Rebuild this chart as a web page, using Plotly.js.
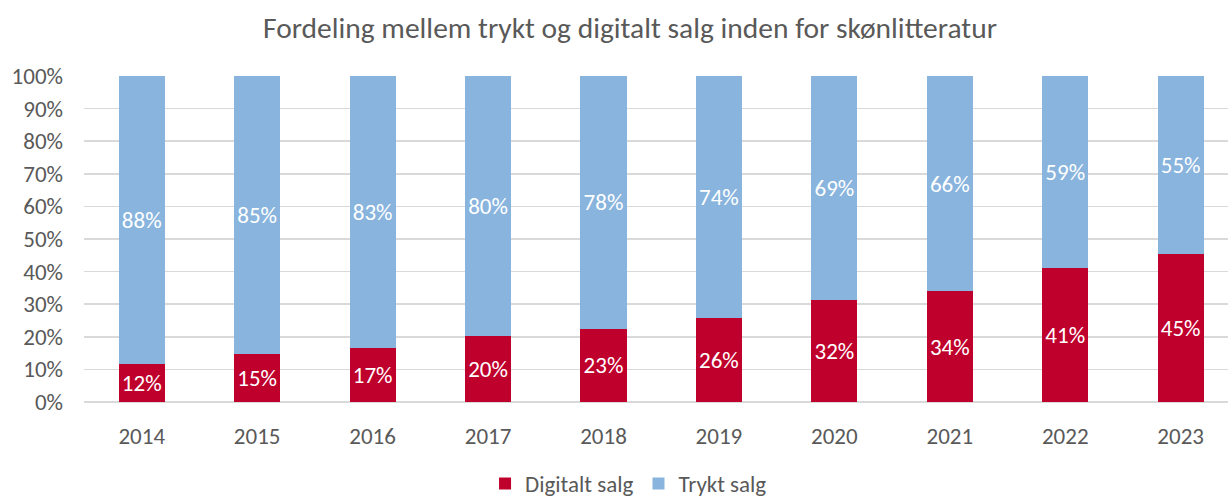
<!DOCTYPE html>
<html>
<head>
<meta charset="utf-8">
<script src="https://cdn.plot.ly/plotly-3.0.1.min.js"></script>
<style>html,body{margin:0;padding:0;background:#fff;}#chart{width:1228px;height:498px;}</style>
</head>
<body>
<div id="chart"></div>
<script>
const years = ['2014','2015','2016','2017','2018','2019','2020','2021','2022','2023'];
const digital = [11.8, 14.8, 16.5, 20.2, 22.4, 25.9, 31.4, 33.9, 41.1, 45.3];
const printed = [88.2, 85.2, 83.5, 79.8, 77.6, 74.1, 68.6, 66.1, 58.9, 54.7];
const digitalLabels = ['12%','15%','17%','20%','23%','26%','32%','34%','41%','45%'];
const printedLabels = ['88%','85%','83%','80%','78%','74%','69%','66%','59%','55%'];
const yTicks = [0,10,20,30,40,50,60,70,80,90,100];
const yTickLabels = ['0%','10%','20%','30%','40%','50%','60%','70%','80%','90%','100%'];

const FONT = 'Carlito, Calibri, Lato, "Open Sans", sans-serif';
const GREY = '#595959';

const traces = [
  {type:'bar', name:'Digitalt salg', x:years, y:digital, text:digitalLabels,
   textposition:'inside', insidetextanchor:'middle', constraintext:'none',
   textfont:{color:'#ffffff', size:23, family:FONT},
   marker:{color:'#C0002C'}, hoverinfo:'skip'},
  {type:'bar', name:'Trykt salg', x:years, y:printed, text:printedLabels,
   textposition:'inside', insidetextanchor:'middle', constraintext:'none',
   textfont:{color:'#ffffff', size:23, family:FONT},
   marker:{color:'#88B4DD'}, hoverinfo:'skip'}
];

const layout = {
  width:1228, height:498,
  margin:{l:84, r:0, t:76, b:96, autoexpand:false},
  paper_bgcolor:'#ffffff', plot_bgcolor:'#ffffff',
  barmode:'stack', bargap:0.6,
  font:{family:FONT, color:GREY, size:23},
  title:{text:'Fordeling mellem trykt og digitalt salg inden for skønlitteratur',
         x:0.513, xanchor:'center', y:0.945, yanchor:'middle',
         font:{size:29.5, color:GREY, family:FONT}},
  xaxis:{type:'category', range:[-0.5, 9.41], showgrid:false, zeroline:false, automargin:false,
         showline:false, ticks:'', tickfont:{size:23, color:GREY}, ticklabelstandoff:18},
  yaxis:{range:[0,100], tickvals:yTicks, ticktext:yTickLabels, tickmode:'array', showgrid:true, automargin:false,
         gridcolor:'#d9d9d9', gridwidth:1.5, zeroline:true, zerolinecolor:'#d9d9d9', zerolinewidth:1.5,
         showline:false, ticks:'', tickfont:{size:23, color:GREY}, ticklabelstandoff:20},
  showlegend:true,
  legend:{orientation:'h', x:0.476, xanchor:'center', yref:'container', y:0.029, yanchor:'middle',
          font:{size:23, color:GREY}, traceorder:'normal', itemwidth:30}
};

Plotly.newPlot('chart', traces, layout, {displayModeBar:false, staticPlot:true});
</script>
</body>
</html>
